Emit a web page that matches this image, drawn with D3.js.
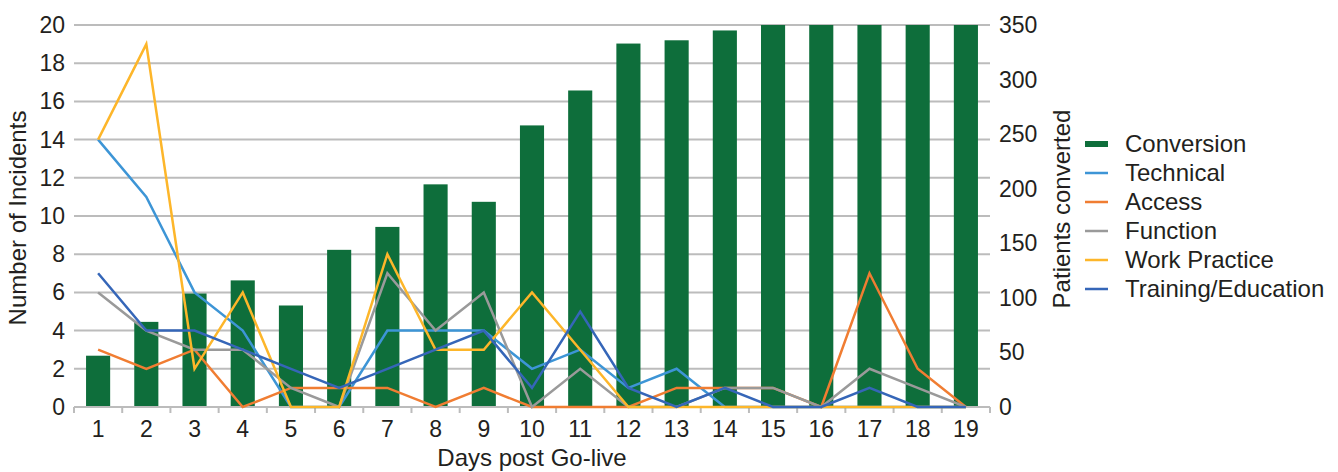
<!DOCTYPE html>
<html>
<head>
<meta charset="utf-8">
<script src="https://cdn.jsdelivr.net/npm/d3@7"></script>
<style>
  body { margin: 0; background: #fff; }
  text { font-family: "Liberation Sans", Arial, sans-serif; fill: #231f20; }
</style>
</head>
<body>
<div id="chart"></div>
<script>
// data
var days = d3.range(1, 20)
var conversion = [47, 78, 104, 116, 93, 144, 165, 204, 188, 258, 290, 333, 336, 345, 350, 350, 350, 350, 350]
var technical = [14, 11, 6, 4, 0, 0, 4, 4, 4, 2, 3, 1, 2, 0, 0, 0, 0, 0, 0]
var access = [3, 2, 3, 0, 1, 1, 1, 0, 1, 0, 0, 0, 1, 1, 1, 0, 7, 2, 0]
var func = [6, 4, 3, 3, 1, 0, 7, 4, 6, 0, 2, 0, 0, 1, 1, 0, 2, 1, 0]
var workPractice = [14, 19, 2, 6, 0, 0, 8, 3, 3, 6, 3, 0, 0, 0, 0, 0, 0, 0, 0]
var training = [7, 4, 4, 3, 2, 1, 2, 3, 4, 1, 5, 1, 0, 1, 0, 0, 1, 0, 0]

var leftTicks = d3.range(0, 21, 2)
var rightTicks = d3.range(0, 351, 50)

var lineSeries = [
    {name: "Technical", values: technical, color: "#3d95d6"},
    {name: "Access", values: access, color: "#f07d32"},
    {name: "Function", values: func, color: "#9a9a9a"},
    {name: "Work Practice", values: workPractice, color: "#fdb62a"},
    {name: "Training/Education", values: training, color: "#3566b8"}
]
var barColor = "#0e6e3b"

var dims = {
    width: 1338, height: 472,
    margin: {top: 25, right: 348, bottom: 65, left: 74}
}
var w = dims.width - dims.margin.left - dims.margin.right
var h = dims.height - dims.margin.top - dims.margin.bottom

var svg = d3.select("#chart").append("svg")
    .attr("width", dims.width)
    .attr("height", dims.height)

var g = svg.append("g")
    .attr("transform", `translate(${dims.margin.left},${dims.margin.top})`)

// scales
var x = d3.scaleBand().domain(days).range([0, w]).paddingInner(0.5).paddingOuter(0.25)
var xPoint = d => x(d) + x.bandwidth() / 2
var yLeft = d3.scaleLinear().domain([0, 20]).range([h, 0])
var yRight = d3.scaleLinear().domain([0, 350]).range([h, 0])

// gridlines
g.append("g")
    .selectAll("line")
    .data(leftTicks.filter(d => d > 0))
    .enter()
    .append("line")
    .attr("x1", 0).attr("x2", w)
    .attr("y1", d => yLeft(d)).attr("y2", d => yLeft(d))
    .style("stroke", "#bcbcbc")
    .style("stroke-width", 2)

// bars
g.append("g")
    .selectAll("rect")
    .data(days)
    .enter()
    .append("rect")
    .attr("x", d => x(d))
    .attr("y", (d, i) => yRight(conversion[i]))
    .attr("width", x.bandwidth())
    .attr("height", (d, i) => h - yRight(conversion[i]))
    .style("fill", barColor)

// x axis
var xAxis = g.append("g")
    .attr("transform", `translate(0,${h})`)
xAxis.append("line")
    .attr("x1", 0).attr("x2", w)
    .style("stroke", "#bcbcbc").style("stroke-width", 2)
xAxis.selectAll(".tick")
    .data(d3.range(0, days.length + 1))
    .enter()
    .append("line")
    .attr("x1", i => i * w / days.length).attr("x2", i => i * w / days.length)
    .attr("y1", 0).attr("y2", 6)
    .style("stroke", "#bcbcbc").style("stroke-width", 2)
xAxis.selectAll("text")
    .data(days)
    .enter()
    .append("text")
    .attr("x", d => xPoint(d))
    .attr("y", 30)
    .attr("text-anchor", "middle")
    .attr("font-size", "23px")
    .text(d => d)

// lines
var line = d3.line()
    .x((v, i) => xPoint(days[i]))
    .y(v => yLeft(v))

g.append("g")
    .selectAll("path")
    .data(lineSeries)
    .enter()
    .append("path")
    .attr("d", d => line(d.values))
    .style("fill", "none")
    .style("stroke", d => d.color)
    .style("stroke-width", 2.5)
    .style("stroke-linejoin", "miter")

// left tick labels
g.append("g")
    .selectAll("text")
    .data(leftTicks)
    .enter()
    .append("text")
    .attr("x", -9)
    .attr("y", d => yLeft(d))
    .attr("dy", "0.35em")
    .attr("text-anchor", "end")
    .attr("font-size", "23px")
    .text(d => d)

// right tick labels
g.append("g")
    .selectAll("text")
    .data(rightTicks)
    .enter()
    .append("text")
    .attr("x", w + 9)
    .attr("y", d => yRight(d))
    .attr("dy", "0.35em")
    .attr("text-anchor", "start")
    .attr("font-size", "23px")
    .text(d => d)

// axis titles
svg.append("text")
    .attr("transform", `translate(26,${dims.margin.top + h / 2 + 2}) rotate(-90)`)
    .attr("text-anchor", "middle")
    .attr("font-size", "24px")
    .text("Number of Incidents")

svg.append("text")
    .attr("transform", `translate(1070,${dims.margin.top + h / 2 - 7}) rotate(-90)`)
    .attr("text-anchor", "middle")
    .attr("font-size", "24px")
    .text("Patients converted")

svg.append("text")
    .attr("x", dims.margin.left + w / 2)
    .attr("y", 466)
    .attr("text-anchor", "middle")
    .attr("font-size", "24px")
    .text("Days post Go-live")

// legend
var legendItems = [{name: "Conversion", color: barColor, bar: true}].concat(lineSeries)
var legend = svg.append("g")
    .attr("transform", "translate(1085,144)")
var rows = legend.selectAll("g")
    .data(legendItems)
    .enter()
    .append("g")
    .attr("transform", (d, i) => `translate(0,${i * 29})`)
rows.append("rect")
    .attr("x", 0)
    .attr("y", d => d.bar ? -3 : -1.25)
    .attr("width", 23)
    .attr("height", d => d.bar ? 6 : 2.5)
    .style("fill", d => d.color)
rows.append("text")
    .attr("x", 40)
    .attr("y", 0)
    .attr("dy", "0.35em")
    .attr("font-size", "24px")
    .text(d => d.name)
</script>
</body>
</html>
